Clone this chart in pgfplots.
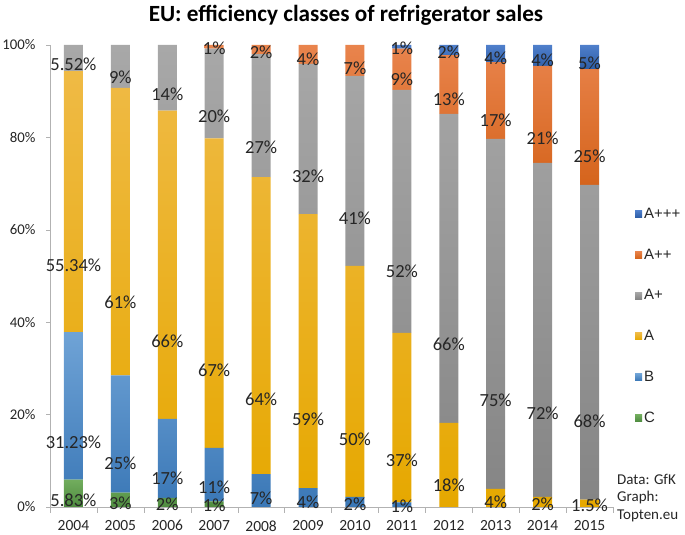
\documentclass[border=0pt]{standalone}
\usepackage{pgfplots}
\pgfplotsset{compat=1.18}
\usepackage{pgfplotstable}
\usepackage{fontspec}
\setmainfont{Carlito}
\newfontfamily\legfont{Liberation Sans}

\definecolor{cTop}{HTML}{72AD5E}\definecolor{cBot}{HTML}{4E8B3F}
\definecolor{bTop}{HTML}{6FA3D6}\definecolor{bBot}{HTML}{3A77B6}
\definecolor{aTop}{HTML}{EFBA45}\definecolor{aBot}{HTML}{E6A800}
\definecolor{pTop}{HTML}{A8A8A8}\definecolor{pBot}{HTML}{858585}
\definecolor{oTop}{HTML}{E9844D}\definecolor{oBot}{HTML}{D5641C}
\definecolor{dTop}{HTML}{4F7FCB}\definecolor{dBot}{HTML}{2D5DA6}

% plotted shares (bar heights) and printed labels
\pgfplotstableread{
x  C    B    A    Ap   App  Appp Cl   Bl    Al    Apl  Appl Apppl
0  5.95 31.9 56.5 5.65 0    0    5.83 31.23 55.34 5.52 0    0
1  3.1  25.4 62.2 9.3  0    0    3    25    61    9    0    0
2  2.0  17.1 66.7 14.2 0    0    2    17    66    14   0    0
3  1.2  11.6 67.0 19.4 0.8  0    1    11    67    20   1    0
4  0    7.1  64.3 26.6 2.0  0    0    7     64    27   2    0
5  0    4.1  59.3 32.5 4.1  0    0    4     59    32   4    0
6  0    2.2  50.0 41.1 6.7  0    0    2     50    41   7    0
7  0    1.0  36.7 52.6 8.9  0.8  0    1     37    52   9    1
8  0    0    18.2 66.9 12.7 2.2  0    0     18    66   13   2
9  0    0    3.9  75.8 16.6 3.7  0    0     4     75   17   4
10 0    0    2.2  72.3 21.0 4.5  0    0     2     72   21   4
11 0    0    1.6  68.1 25.1 5.2  0    0     1.5   68   25   5
}\shares

\pgfplotsset{
  seg/.style 2 args={draw=none, top color=#1, bottom color=#2, point meta=explicit},
}

\begin{document}
\begin{tikzpicture}[x=1pt,y=1pt]
\begin{axis}[
  at={(50pt,28pt)}, anchor=south west,
  scale only axis, width=563pt, height=462pt,
  xmin=-0.5, xmax=11.5, ymin=0, ymax=100,
  ybar stacked, bar width=19pt,
  clip=false,
  set layers=standard, mark layer=axis foreground,
  axis x line*=bottom, axis y line*=left,
  axis line style={-, draw=gray!60},
  xtick={0,1,2,3,4,5,6,7,8,9,10,11},
  xticklabels={2004,2005,2006,2007,2008,2009,2010,2011,2012,2013,2014,2015},
  major x tick style={draw=none},
  minor xtick={-0.5,0.5,...,11.5},
  minor x tick style={draw=gray!60},
  ytick={0,20,40,60,80,100},
  yticklabel={\pgfmathprintnumber{\tick}\%},
  ytick style={draw=gray!60},
  tick align=outside, major tick length=4pt, minor tick length=6pt,
  /pgf/number format/assume math mode=true,
  xticklabel style={font=\fontsize{15.5}{17}\selectfont, text=black!85, yshift=-6pt},
  yticklabel style={font=\fontsize{14.8}{16}\selectfont, text=black!85, xshift=-7pt},
  nodes near coords={\pgfmathfloatifflags{\pgfplotspointmeta}{0}{}{\pgfmathprintnumber{\pgfplotspointmeta}\%}},
  every node near coord/.append style={font=\fontsize{18.5}{20}\selectfont, text=black!85, anchor=center,
    /utils/exec={\pgfkeys{/pgf/fpu=true,/pgf/fpu/output format=fixed}\pgfmathsetmacro\offs{\pgfplotspointmeta*1.155}\pgfkeys{/pgf/fpu=false}},
    yshift=-\offs pt},
  legend style={at={(1,0.652)}, anchor=north west, xshift=22pt, draw=none, fill=none,
    font=\legfont\fontsize{15}{17}\selectfont, text=black!85, row sep=25pt, cells={anchor=west}, inner sep=0pt},
  reverse legend,
  legend image code/.code={\path[draw=none,#1] (0pt,-3.5pt) rectangle (7pt,3.5pt);},
]
\addplot[seg={cTop}{cBot}] table[x=x,y=C,meta=Cl] {\shares};
\addplot[seg={bTop}{bBot}] table[x=x,y=B,meta=Bl] {\shares};
\addplot[seg={aTop}{aBot}] table[x=x,y=A,meta=Al] {\shares};
\addplot[seg={pTop}{pBot}] table[x=x,y=Ap,meta=Apl] {\shares};
\addplot[seg={oTop}{oBot}] table[x=x,y=App,meta=Appl] {\shares};
\addplot[seg={dTop}{dBot}] table[x=x,y=Appp,meta=Apppl] {\shares};
\legend{C,B,A,A+,A++,A+++}
\end{axis}
\node[font=\bfseries\fontsize{23.2}{26}\selectfont, text=black] at (346,520) {EU: efficiency classes of refrigerator sales};
\node[anchor=north west, align=left, inner sep=0pt, font=\fontsize{15}{17.5}\selectfont, text=black!85] at (617,61) {Data: GfK\\Graph:\\Topten.eu};
\pgfresetboundingbox
\path[use as bounding box] (0,0) rectangle (685,535);
\end{tikzpicture}
\end{document}
